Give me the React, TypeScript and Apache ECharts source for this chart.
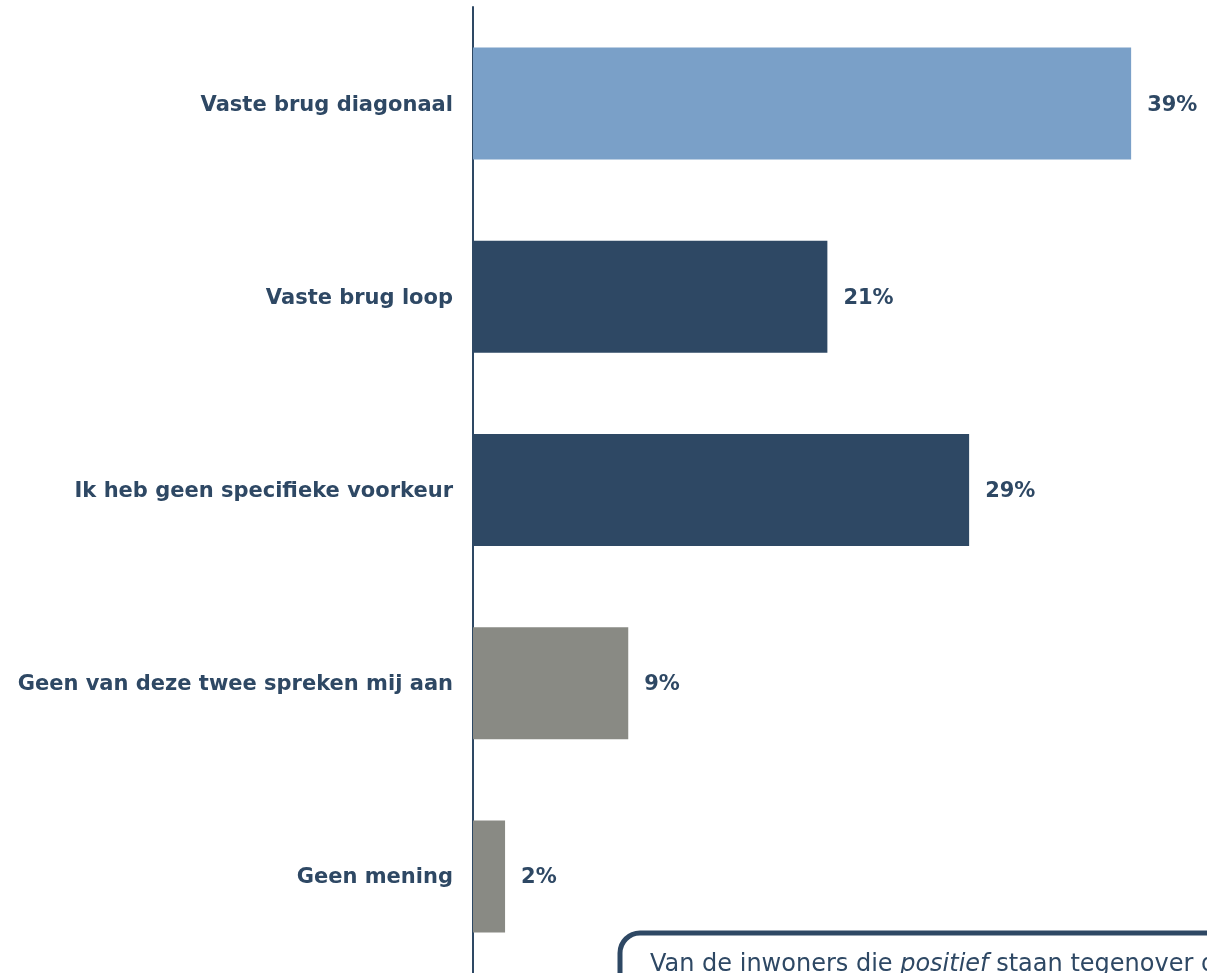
import React, { useEffect, useRef } from "react";
import * as echarts from "echarts";

const categories = [
  "Vaste brug diagonaal",
  "Vaste brug loop",
  "Ik heb geen specifieke voorkeur",
  "Geen van deze twee spreken mij aan",
  "Geen mening",
];
const values = [39.0, 21.0, 29.4, 9.2, 1.9];
const labels = ["39%", "21%", "29%", "9%", "2%"];
const colors = ["#7AA0C8", "#2E4864", "#2E4864", "#898A84", "#898A84"];

export default function App() {
  const ref = useRef<HTMLDivElement>(null);
  useEffect(() => {
    if (!ref.current) return;
    const chart = echarts.init(ref.current, undefined, { renderer: "svg" });
    chart.setOption({
      animation: false,
      grid: { left: 473, top: 7, width: 675, height: 971, containLabel: false },
      xAxis: {
        type: "value",
        min: 0,
        max: 40,
        show: false,
      },
      yAxis: {
        type: "category",
        data: categories,
        inverse: true,
        axisLine: { show: true, lineStyle: { color: "#2E4864", width: 2 } },
        axisTick: { show: false },
        axisLabel: {
          color: "#2E4864",
          fontFamily: "DejaVu Sans",
          fontWeight: "bold",
          fontSize: 21,
          margin: 20,
        },
      },
      series: [
        {
          type: "bar",
          barWidth: 112,
          data: values.map((v, i) => ({ value: v, itemStyle: { color: colors[i] } })),
          label: {
            show: true,
            position: "right",
            distance: 16,
            color: "#2E4864",
            fontFamily: "DejaVu Sans",
            fontWeight: "bold",
            fontSize: 21,
            formatter: (p: any) => labels[p.dataIndex],
          },
          z: 1,
        },
      ],
      graphic: [
        {
          type: "rect",
          x: 620,
          y: 933,
          shape: { width: 700, height: 120, r: 20 },
          style: { fill: "#ffffff", stroke: "#2E4864", lineWidth: 5 },
          z: 10,
        },
        {
          type: "text",
          x: 650,
          y: 951,
          z: 11,
          style: {
            text: "{n|Van de inwoners die }{i|positief}{n| staan tegenover de}",
            verticalAlign: "top",
            rich: {
              n: { fontFamily: "DejaVu Sans", fontSize: 24, fill: "#2E4864" },
              i: { fontFamily: "DejaVu Sans", fontSize: 24, fontStyle: "italic", fill: "#2E4864" },
            },
          },
        },
      ],
    });
    return () => chart.dispose();
  }, []);
  return (
    <div
      ref={ref}
      style={{ position: "fixed", left: 0, top: 0, width: 1207, height: 973 }}
    />
  );
}
